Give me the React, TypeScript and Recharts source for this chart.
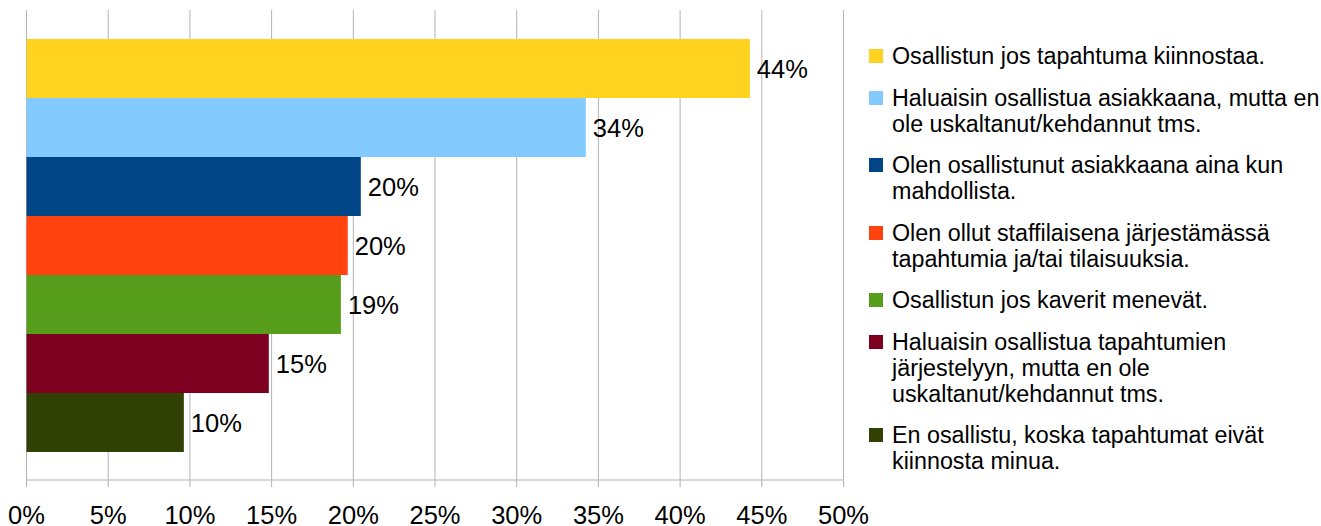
import { BarChart, Bar, CartesianGrid, XAxis, YAxis, LabelList } from 'recharts';

const seriesNames = [
  'Osallistun jos tapahtuma kiinnostaa.',
  'Haluaisin osallistua asiakkaana, mutta en\nole uskaltanut/kehdannut tms.',
  'Olen osallistunut asiakkaana aina kun\nmahdollista.',
  'Olen ollut staffilaisena järjestämässä\ntapahtumia ja/tai tilaisuuksia.',
  'Osallistun jos kaverit menevät.',
  'Haluaisin osallistua tapahtumien\njärjestelyyn, mutta en ole\nuskaltanut/kehdannut tms.',
  'En osallistu, koska tapahtumat eivät\nkiinnosta minua.',
];

const seriesValues = [44.27, 34.23, 20.46, 19.66, 19.24, 14.83, 9.63];

const seriesColors = ['#ffd320', '#83caff', '#004586', '#ff420e', '#579d1c', '#7e0021', '#314004'];

const xTicks = [0, 5, 10, 15, 20, 25, 30, 35, 40, 45, 50];

const row: Record<string, string | number> = { group: '' };
seriesValues.forEach((v, i) => {
  row[`s${i}`] = v;
});
const data = [row];

const FONT = '"Liberation Sans", Arial, sans-serif';
const GRID = '#b3b3b3';

function ChartLegend() {
  return (
    <div style={{ position: 'absolute', left: 869, top: 43, fontSize: 23.3, lineHeight: '26px', color: '#000' }}>
      {seriesNames.map((name, i) => (
        <div key={i} style={{ display: 'flex', marginBottom: 15.5 }}>
          <div style={{ width: 14, height: 14, marginTop: 6, marginRight: 9, background: seriesColors[i], flexShrink: 0 }} />
          <div style={{ whiteSpace: 'pre-line' }}>{name}</div>
        </div>
      ))}
    </div>
  );
}

export default function App() {
  return (
    <div style={{ position: 'absolute', left: 0, top: 0, width: 1321, height: 526, background: '#fff', fontFamily: FONT }}>
      <BarChart
        width={1321}
        height={526}
        data={data}
        layout="vertical"
        margin={{ top: 10, right: 477.5, bottom: 0, left: 0 }}
        barCategoryGap={29}
        barGap={0}
      >
        <CartesianGrid horizontal={false} stroke={GRID} strokeWidth={1} />
        <XAxis
          type="number"
          domain={[0, 50]}
          ticks={xTicks}
          interval={0}
          tickFormatter={(v: number) => `${v}%`}
          tickSize={7}
          tickMargin={19}
          height={46}
          axisLine={{ stroke: GRID }}
          tickLine={{ stroke: GRID }}
          tick={{ fontSize: 25.5, fill: '#000', fontFamily: FONT }}
        />
        <XAxis
          xAxisId="top"
          orientation="top"
          type="number"
          domain={[0, 50]}
          height={0}
          tick={false}
          tickLine={false}
          axisLine={{ stroke: GRID }}
        />
        <YAxis
          yAxisId="frame"
          type="number"
          domain={[0, 1]}
          ticks={[0, 1]}
          width={26.5}
          tickSize={11}
          tickFormatter={() => ''}
          axisLine={{ stroke: GRID }}
          tickLine={{ stroke: GRID }}
        />
        <YAxis yAxisId="cat" type="category" dataKey="group" hide />
        {seriesNames.map((name, i) => (
          <Bar
            key={i}
            yAxisId="cat"
            dataKey={`s${i}`}
            name={name}
            fill={seriesColors[i]}
            isAnimationActive={false}
          >
            <LabelList
              dataKey={`s${i}`}
              position="right"
              offset={7}
              formatter={(v: number) => `${Math.round(v)}%`}
              style={{ fontSize: 25.5, fill: '#000', fontFamily: FONT }}
            />
          </Bar>
        ))}
      </BarChart>
      <ChartLegend />
    </div>
  );
}
